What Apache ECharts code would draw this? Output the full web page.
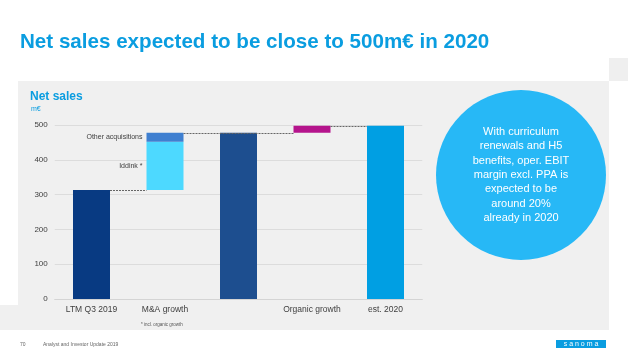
<!DOCTYPE html>
<html>
<head>
<meta charset="utf-8">
<style>html,body{margin:0;padding:0;background:#fff;}#c{width:628px;height:362px;}</style>
<script src="https://cdn.jsdelivr.net/npm/echarts@6/dist/echarts.min.js"></script>
</head>
<body>
<div id="c"></div>
<script>
const categories = ['LTM Q3 2019', 'M&A growth', '', 'Organic growth', 'est. 2020'];
const baseValues = [0, 313, 0, 478, 0];
const totalValues = [313, '-', 478, '-', 498];
const iddinkValues = ['-', 139, '-', '-', '-'];
const otherAcqValues = ['-', 26, '-', '-', '-'];
const organicValues = ['-', '-', '-', 20, '-'];
const connectors = [[0, 1, 313], [1, 3, 478], [3, 4, 498]];
const yTicks = [0, 100, 200, 300, 400, 500];

const totalColors = ['#083a82', null, '#1d4e8f', null, '#009fe3'];
const BW = 37;
const font = 'Liberation Sans, Arial, sans-serif';

const chart = echarts.init(document.getElementById('c'), null, {renderer: 'canvas'});
chart.setOption({
  animation: false,
  backgroundColor: '#ffffff',
  grid: {left: 54.75, right: 205.75, top: 125, bottom: 63, containLabel: false},
  xAxis: {
    type: 'category', data: categories,
    axisLine: {lineStyle: {color: '#d4d4d4'}},
    axisTick: {show: false},
    axisLabel: {color: '#404040', fontSize: 8.5, fontFamily: font, margin: 6, interval: 0}
  },
  yAxis: {
    type: 'value', min: yTicks[0], max: yTicks[yTicks.length - 1], interval: 100,
    axisLine: {show: false}, axisTick: {show: false},
    splitLine: {lineStyle: {color: '#dcdcdc', width: 1}},
    axisLabel: {color: '#404040', fontSize: 8, fontFamily: font, margin: 7}
  },
  graphic: [
    {type: 'rect', z: -10, silent: true, shape: {x: 18, y: 81, width: 591, height: 249}, style: {fill: '#f0f0f0'}},
    {type: 'rect', z: -10, silent: true, shape: {x: 0, y: 305, width: 609, height: 25}, style: {fill: '#f0f0f0'}},
    {type: 'rect', z: -10, silent: true, shape: {x: 609, y: 58, width: 19, height: 23}, style: {fill: '#efefef'}},
    {type: 'text', left: 20, top: 32, style: {text: 'Net sales expected to be close to 500m€ in 2020', fill: '#0a9de0', font: 'bold 20.6px ' + font}},
    {type: 'text', left: 30, top: 91, style: {text: 'Net sales', fill: '#0a9de0', font: 'bold 12px ' + font}},
    {type: 'text', left: 31, top: 106, style: {text: 'm€', fill: '#0a9de0', font: '7px ' + font}},
    {type: 'text', left: 141, top: 322, style: {text: '* incl. organic growth', fill: '#555', font: '4.5px ' + font}},
    {type: 'circle', shape: {cx: 521, cy: 175, r: 85}, style: {fill: '#27b8f6'}},
    {type: 'text', x: 521, y: 175, style: {text: 'With curriculum\nrenewals and H5\nbenefits, oper. EBIT\nmargin excl. PPA is\nexpected to be\naround 20%\nalready in 2020', fill: '#ffffff', font: '11px ' + font, align: 'center', verticalAlign: 'middle', lineHeight: 14.3}},
    {type: 'text', left: 20, top: 342, style: {text: '70', fill: '#666', font: '5px ' + font}},
    {type: 'text', left: 43, top: 342, style: {text: 'Analyst and Investor Update 2019', fill: '#666', font: '5px ' + font}},
    {type: 'rect', shape: {x: 556, y: 340, width: 50, height: 8}, style: {fill: '#0a9de0'}},
    {type: 'text', x: 581, y: 344, style: {text: 's a n o m a', fill: '#ffffff', font: '7px ' + font, align: 'center', verticalAlign: 'middle'}}
  ],
  series: [
    {type: 'bar', stack: 'w', barWidth: BW, data: baseValues, itemStyle: {color: 'transparent'}, silent: true},
    {type: 'bar', stack: 'w', barWidth: BW, data: totalValues.map((v, i) => v === '-' ? '-' : {value: v, itemStyle: {color: totalColors[i]}})},
    {type: 'bar', stack: 'w', barWidth: BW, data: iddinkValues, itemStyle: {color: '#4dd9ff'},
      label: {show: true, position: 'left', distance: 4, formatter: 'Iddink *', color: '#404040', fontSize: 7, fontFamily: font}},
    {type: 'bar', stack: 'w', barWidth: BW, data: otherAcqValues, itemStyle: {color: '#3f7fd0'},
      label: {show: true, position: 'left', distance: 4, formatter: 'Other acquisitions', color: '#404040', fontSize: 7, fontFamily: font}},
    {type: 'bar', stack: 'w', barWidth: BW, data: organicValues, itemStyle: {color: '#b5148c'}},
    {type: 'custom', z: 5, data: connectors,
      encode: {x: [0, 1], y: 2},
      renderItem: function (params, api) {
        const a = api.coord([api.value(0), api.value(2)]);
        const b = api.coord([api.value(1), api.value(2)]);
        const y = Math.round(a[1]) + 0.5;
        return {type: 'line', shape: {x1: a[0] + BW / 2, y1: y, x2: b[0] - BW / 2, y2: y},
          style: {stroke: '#666', lineWidth: 1, lineDash: [2, 1]}};
      }}
  ]
});
</script>
</body>
</html>
